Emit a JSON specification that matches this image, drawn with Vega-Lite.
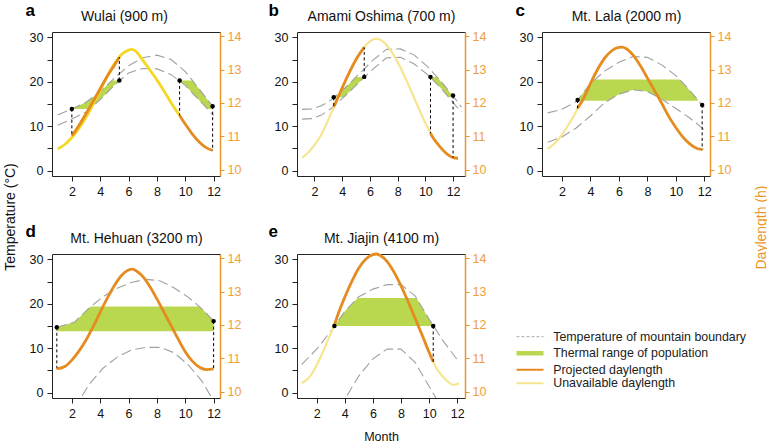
{
"$schema": "https://vega.github.io/schema/vega-lite/v6.json",
"autosize": {"type": "none"},
"padding": {"left": 52, "top": 32, "right": 715, "bottom": 413},
"background": "white",
"config": {"font": "Liberation Sans", "view": {"stroke": "#222", "strokeWidth": 1}, "axis": {"labelFont": "Liberation Sans", "titleFont": "Liberation Sans"}, "legend": {"labelFont": "Liberation Sans"}},
"datasets": {
"temp": [
{"p":"a","g":"up","m":1,"v":12.5},{"p":"a","g":"up","m":2,"v":13.9},{"p":"a","g":"up","m":3,"v":15.4},{"p":"a","g":"up","m":4,"v":17.8},{"p":"a","g":"up","m":5,"v":20.8},{"p":"a","g":"up","m":6,"v":23.6},{"p":"a","g":"up","m":7,"v":25.4},{"p":"a","g":"up","m":8,"v":26.0},{"p":"a","g":"up","m":9,"v":25.0},{"p":"a","g":"up","m":10,"v":22.3},{"p":"a","g":"up","m":11,"v":18.3},{"p":"a","g":"up","m":12,"v":14.2},
{"p":"a","g":"lo","m":1,"v":10.2},{"p":"a","g":"lo","m":2,"v":11.6},{"p":"a","g":"lo","m":3,"v":13.2},{"p":"a","g":"lo","m":4,"v":16.0},{"p":"a","g":"lo","m":5,"v":19.2},{"p":"a","g":"lo","m":6,"v":22.0},{"p":"a","g":"lo","m":7,"v":23.0},{"p":"a","g":"lo","m":8,"v":22.9},{"p":"a","g":"lo","m":9,"v":21.6},{"p":"a","g":"lo","m":10,"v":19.2},{"p":"a","g":"lo","m":11,"v":15.8},{"p":"a","g":"lo","m":12,"v":12.4},
{"p":"b","g":"up","m":1.1,"v":13.8},{"p":"b","g":"up","m":1.8,"v":13.9},{"p":"b","g":"up","m":2.5,"v":14.6},{"p":"b","g":"up","m":3.2,"v":15.9},{"p":"b","g":"up","m":4.2,"v":18.6},{"p":"b","g":"up","m":5.2,"v":21.7},{"p":"b","g":"up","m":6.2,"v":24.8},{"p":"b","g":"up","m":7.2,"v":27.3},{"p":"b","g":"up","m":8.2,"v":27.4},{"p":"b","g":"up","m":9.2,"v":26.0},{"p":"b","g":"up","m":10.2,"v":23.3},{"p":"b","g":"up","m":11.2,"v":19.8},{"p":"b","g":"up","m":12.2,"v":16.0},{"p":"b","g":"up","m":12.6,"v":14.3},
{"p":"b","g":"lo","m":1.1,"v":11.6},{"p":"b","g":"lo","m":1.8,"v":11.7},{"p":"b","g":"lo","m":2.5,"v":12.5},{"p":"b","g":"lo","m":3.2,"v":14.0},{"p":"b","g":"lo","m":4.2,"v":16.8},{"p":"b","g":"lo","m":5.2,"v":19.8},{"p":"b","g":"lo","m":6.2,"v":22.8},{"p":"b","g":"lo","m":7.2,"v":25.4},{"p":"b","g":"lo","m":8.2,"v":25.5},{"p":"b","g":"lo","m":9.2,"v":24.0},{"p":"b","g":"lo","m":10.2,"v":21.5},{"p":"b","g":"lo","m":11.2,"v":18.3},{"p":"b","g":"lo","m":12.2,"v":14.6},{"p":"b","g":"lo","m":12.6,"v":13.2},
{"p":"c","g":"up","m":1,"v":13.0},{"p":"c","g":"up","m":2,"v":13.8},{"p":"c","g":"up","m":3,"v":15.5},{"p":"c","g":"up","m":4,"v":19.6},{"p":"c","g":"up","m":5,"v":22.4},{"p":"c","g":"up","m":6,"v":24.4},{"p":"c","g":"up","m":7,"v":25.7},{"p":"c","g":"up","m":8,"v":25.5},{"p":"c","g":"up","m":9,"v":23.8},{"p":"c","g":"up","m":10,"v":21.4},{"p":"c","g":"up","m":11,"v":18.0},{"p":"c","g":"up","m":12,"v":14.2},
{"p":"c","g":"lo","m":1,"v":6.4},{"p":"c","g":"lo","m":2,"v":7.6},{"p":"c","g":"lo","m":3,"v":9.6},{"p":"c","g":"lo","m":4,"v":12.3},{"p":"c","g":"lo","m":5,"v":15.3},{"p":"c","g":"lo","m":6,"v":17.2},{"p":"c","g":"lo","m":7,"v":18.2},{"p":"c","g":"lo","m":8,"v":17.8},{"p":"c","g":"lo","m":9,"v":16.1},{"p":"c","g":"lo","m":10,"v":14.0},{"p":"c","g":"lo","m":11,"v":11.8},{"p":"c","g":"lo","m":12,"v":9.2},
{"p":"d","g":"up","m":0.94,"v":14.7},{"p":"d","g":"up","m":2.2,"v":15.9},{"p":"d","g":"up","m":3.2,"v":19.0},{"p":"d","g":"up","m":4.2,"v":21.6},{"p":"d","g":"up","m":5.2,"v":23.5},{"p":"d","g":"up","m":6.2,"v":24.8},{"p":"d","g":"up","m":7.2,"v":25.5},{"p":"d","g":"up","m":8.2,"v":25.2},{"p":"d","g":"up","m":9.2,"v":23.6},{"p":"d","g":"up","m":10.2,"v":21.5},{"p":"d","g":"up","m":11.2,"v":18.8},{"p":"d","g":"up","m":12.0,"v":16.1},
{"p":"d","g":"lo","m":2.2,"v":-3.5},{"p":"d","g":"lo","m":3.2,"v":1.8},{"p":"d","g":"lo","m":4.2,"v":5.5},{"p":"d","g":"lo","m":5.2,"v":8.0},{"p":"d","g":"lo","m":6.2,"v":9.6},{"p":"d","g":"lo","m":7.2,"v":10.2},{"p":"d","g":"lo","m":8.2,"v":10.2},{"p":"d","g":"lo","m":9.2,"v":9.0},{"p":"d","g":"lo","m":10.2,"v":6.3},{"p":"d","g":"lo","m":11.2,"v":2.5},{"p":"d","g":"lo","m":12.2,"v":-3.0},
{"p":"e","g":"up","m":0.93,"v":6.3},{"p":"e","g":"up","m":2,"v":9.8},{"p":"e","g":"up","m":3,"v":13.8},{"p":"e","g":"up","m":4,"v":18.3},{"p":"e","g":"up","m":5,"v":21.6},{"p":"e","g":"up","m":6,"v":23.3},{"p":"e","g":"up","m":7,"v":24.3},{"p":"e","g":"up","m":8,"v":24.3},{"p":"e","g":"up","m":9,"v":21.8},{"p":"e","g":"up","m":10,"v":16.5},{"p":"e","g":"up","m":11,"v":11.6},{"p":"e","g":"up","m":12.1,"v":7.0},
{"p":"e","g":"lo","m":3,"v":-6.0},{"p":"e","g":"lo","m":4,"v":-1.5},{"p":"e","g":"lo","m":5,"v":3.8},{"p":"e","g":"lo","m":6,"v":7.6},{"p":"e","g":"lo","m":7,"v":9.8},{"p":"e","g":"lo","m":8,"v":9.8},{"p":"e","g":"lo","m":9,"v":6.8},{"p":"e","g":"lo","m":10,"v":1.4},{"p":"e","g":"lo","m":11,"v":-4.0}
],
"band": [
{"p":"a","g":"1","m":2,"lo":13.9,"hi":13.9},{"p":"a","g":"1","m":2.5,"lo":13.9,"hi":14.65},{"p":"a","g":"1","m":3,"lo":13.9,"hi":15.4},{"p":"a","g":"1","m":3.25,"lo":13.9,"hi":16.0},{"p":"a","g":"1","m":3.5,"lo":14.6,"hi":16.6},{"p":"a","g":"1","m":4,"lo":16.0,"hi":17.8},{"p":"a","g":"1","m":4.5,"lo":17.6,"hi":19.3},{"p":"a","g":"1","m":4.83,"lo":18.66,"hi":20.3},{"p":"a","g":"1","m":5,"lo":19.2,"hi":20.3},{"p":"a","g":"1","m":5.35,"lo":20.2,"hi":20.3},
{"p":"a","g":"2","m":9.6,"lo":20.16,"hi":20.3},{"p":"a","g":"2","m":10,"lo":19.2,"hi":20.3},{"p":"a","g":"2","m":10.5,"lo":17.5,"hi":20.3},{"p":"a","g":"2","m":11,"lo":15.8,"hi":18.3},{"p":"a","g":"2","m":11.5,"lo":14.1,"hi":16.25},{"p":"a","g":"2","m":11.56,"lo":13.9,"hi":16.0},{"p":"a","g":"2","m":11.93,"lo":13.9,"hi":14.49},
{"p":"b","g":"1","m":3.39,"lo":16.5,"hi":16.5},{"p":"b","g":"1","m":3.6,"lo":16.5,"hi":17.0},{"p":"b","g":"1","m":4.09,"lo":16.5,"hi":18.3},{"p":"b","g":"1","m":4.2,"lo":16.8,"hi":18.6},{"p":"b","g":"1","m":4.6,"lo":18.0,"hi":19.84},{"p":"b","g":"1","m":5.0,"lo":19.2,"hi":21.08},{"p":"b","g":"1","m":5.2,"lo":19.8,"hi":21.1},{"p":"b","g":"1","m":5.59,"lo":20.97,"hi":21.1},
{"p":"b","g":"2","m":10.37,"lo":20.96,"hi":21.1},{"p":"b","g":"2","m":10.6,"lo":20.22,"hi":21.1},{"p":"b","g":"2","m":10.83,"lo":19.48,"hi":21.1},{"p":"b","g":"2","m":11.2,"lo":18.3,"hi":19.8},{"p":"b","g":"2","m":11.69,"lo":16.5,"hi":17.94},{"p":"b","g":"2","m":12.0,"lo":16.5,"hi":16.76},
{"p":"c","g":"1","m":3.06,"lo":15.75,"hi":15.75},{"p":"c","g":"1","m":3.5,"lo":15.75,"hi":17.55},{"p":"c","g":"1","m":4.0,"lo":15.75,"hi":19.6},{"p":"c","g":"1","m":4.32,"lo":15.75,"hi":20.5},{"p":"c","g":"1","m":5.24,"lo":15.75,"hi":20.5},{"p":"c","g":"1","m":5.5,"lo":16.25,"hi":20.5},{"p":"c","g":"1","m":6,"lo":17.2,"hi":20.5},{"p":"c","g":"1","m":7,"lo":18.2,"hi":20.5},{"p":"c","g":"1","m":8,"lo":17.8,"hi":20.5},{"p":"c","g":"1","m":9,"lo":16.1,"hi":20.5},{"p":"c","g":"1","m":9.17,"lo":15.75,"hi":20.5},{"p":"c","g":"1","m":10.26,"lo":15.75,"hi":20.5},{"p":"c","g":"1","m":10.5,"lo":15.75,"hi":19.7},{"p":"c","g":"1","m":11,"lo":15.75,"hi":18.0},{"p":"c","g":"1","m":11.59,"lo":15.75,"hi":15.76},
{"p":"d","g":"1","m":0.94,"lo":13.8,"hi":14.7},{"p":"d","g":"1","m":2.2,"lo":13.8,"hi":15.9},{"p":"d","g":"1","m":3.2,"lo":13.8,"hi":19.0},{"p":"d","g":"1","m":3.35,"lo":13.8,"hi":19.4},{"p":"d","g":"1","m":10.98,"lo":13.8,"hi":19.4},{"p":"d","g":"1","m":11.2,"lo":13.8,"hi":18.8},{"p":"d","g":"1","m":12.0,"lo":13.8,"hi":16.1},
{"p":"e","g":"1","m":3.26,"lo":15.0,"hi":15.0},{"p":"e","g":"1","m":3.5,"lo":15.0,"hi":16.08},{"p":"e","g":"1","m":4.0,"lo":15.0,"hi":18.3},{"p":"e","g":"1","m":4.5,"lo":15.0,"hi":19.95},{"p":"e","g":"1","m":4.91,"lo":15.0,"hi":21.3},{"p":"e","g":"1","m":9.1,"lo":15.0,"hi":21.3},{"p":"e","g":"1","m":9.5,"lo":15.0,"hi":19.15},{"p":"e","g":"1","m":10.0,"lo":15.0,"hi":16.5},{"p":"e","g":"1","m":10.29,"lo":15.0,"hi":15.08}
],
"day": [
{"p":"a","s":"U","g":"u1","m":1.0,"v":10.63},{"p":"a","s":"U","g":"u1","m":1.5,"v":10.76},{"p":"a","s":"U","g":"u1","m":2.0,"v":10.97},{"p":"a","s":"U","g":"u1","m":2.5,"v":11.24},{"p":"a","s":"U","g":"u1","m":3.0,"v":11.57},{"p":"a","s":"U","g":"u1","m":3.5,"v":11.96},{"p":"a","s":"U","g":"u1","m":4.0,"v":12.38},{"p":"a","s":"U","g":"u1","m":4.5,"v":12.8},{"p":"a","s":"U","g":"u1","m":5.0,"v":13.17},{"p":"a","s":"U","g":"u1","m":5.5,"v":13.45},{"p":"a","s":"U","g":"u1","m":6.0,"v":13.58},{"p":"a","s":"U","g":"u1","m":6.2,"v":13.6},{"p":"a","s":"U","g":"u1","m":6.5,"v":13.55},{"p":"a","s":"U","g":"u1","m":7.0,"v":13.28},{"p":"a","s":"U","g":"u1","m":7.5,"v":12.99},{"p":"a","s":"U","g":"u1","m":8.0,"v":12.69},{"p":"a","s":"U","g":"u1","m":8.5,"v":12.36},{"p":"a","s":"U","g":"u1","m":9.0,"v":12.01},{"p":"a","s":"U","g":"u1","m":9.6,"v":11.63},
{"p":"a","s":"P","g":"p1","m":2.0,"v":11.02},{"p":"a","s":"P","g":"p1","m":2.5,"v":11.33},{"p":"a","s":"P","g":"p1","m":3.0,"v":11.68},{"p":"a","s":"P","g":"p1","m":3.5,"v":12.05},{"p":"a","s":"P","g":"p1","m":4.0,"v":12.43},{"p":"a","s":"P","g":"p1","m":4.5,"v":12.8},{"p":"a","s":"P","g":"p1","m":5.0,"v":13.13},{"p":"a","s":"P","g":"p1","m":5.35,"v":13.37},
{"p":"a","s":"P","g":"p2","m":9.6,"v":11.63},{"p":"a","s":"P","g":"p2","m":10.0,"v":11.37},{"p":"a","s":"P","g":"p2","m":10.5,"v":11.07},{"p":"a","s":"P","g":"p2","m":11.0,"v":10.83},{"p":"a","s":"P","g":"p2","m":11.5,"v":10.66},{"p":"a","s":"P","g":"p2","m":11.93,"v":10.58},
{"p":"b","s":"U","g":"u1","m":1.11,"v":10.37},{"p":"b","s":"U","g":"u1","m":1.5,"v":10.5},{"p":"b","s":"U","g":"u1","m":2.0,"v":10.74},{"p":"b","s":"U","g":"u1","m":2.5,"v":11.06},{"p":"b","s":"U","g":"u1","m":3.0,"v":11.5},{"p":"b","s":"U","g":"u1","m":3.5,"v":11.98},{"p":"b","s":"U","g":"u1","m":4.0,"v":12.45},{"p":"b","s":"U","g":"u1","m":4.5,"v":12.9},{"p":"b","s":"U","g":"u1","m":5.0,"v":13.3},{"p":"b","s":"U","g":"u1","m":5.5,"v":13.62},{"p":"b","s":"U","g":"u1","m":6.0,"v":13.84},{"p":"b","s":"U","g":"u1","m":6.45,"v":13.92},{"p":"b","s":"U","g":"u1","m":7.0,"v":13.82},{"p":"b","s":"U","g":"u1","m":7.5,"v":13.57},{"p":"b","s":"U","g":"u1","m":8.0,"v":13.22},{"p":"b","s":"U","g":"u1","m":8.5,"v":12.8},{"p":"b","s":"U","g":"u1","m":9.0,"v":12.34},{"p":"b","s":"U","g":"u1","m":9.5,"v":11.86},{"p":"b","s":"U","g":"u1","m":10.0,"v":11.4},{"p":"b","s":"U","g":"u1","m":10.37,"v":11.1},
{"p":"b","s":"P","g":"p1","m":3.39,"v":11.88},{"p":"b","s":"P","g":"p1","m":3.5,"v":11.98},{"p":"b","s":"P","g":"p1","m":4.0,"v":12.45},{"p":"b","s":"P","g":"p1","m":4.5,"v":12.9},{"p":"b","s":"P","g":"p1","m":5.0,"v":13.3},{"p":"b","s":"P","g":"p1","m":5.59,"v":13.66},
{"p":"b","s":"P","g":"p2","m":10.37,"v":11.1},{"p":"b","s":"P","g":"p2","m":10.5,"v":11.0},{"p":"b","s":"P","g":"p2","m":11.0,"v":10.72},{"p":"b","s":"P","g":"p2","m":11.5,"v":10.5},{"p":"b","s":"P","g":"p2","m":12.0,"v":10.37},{"p":"b","s":"P","g":"p2","m":12.36,"v":10.35},
{"p":"c","s":"U","g":"u1","m":1.0,"v":10.63},{"p":"c","s":"U","g":"u1","m":1.5,"v":10.8},{"p":"c","s":"U","g":"u1","m":2.0,"v":11.05},{"p":"c","s":"U","g":"u1","m":2.5,"v":11.38},{"p":"c","s":"U","g":"u1","m":3.0,"v":11.75},{"p":"c","s":"U","g":"u1","m":3.1,"v":11.84},
{"p":"c","s":"P","g":"p1","m":3.1,"v":11.84},{"p":"c","s":"P","g":"p1","m":3.5,"v":12.12},{"p":"c","s":"P","g":"p1","m":4.0,"v":12.58},{"p":"c","s":"P","g":"p1","m":4.5,"v":13.0},{"p":"c","s":"P","g":"p1","m":5.0,"v":13.34},{"p":"c","s":"P","g":"p1","m":5.5,"v":13.56},{"p":"c","s":"P","g":"p1","m":6.0,"v":13.66},{"p":"c","s":"P","g":"p1","m":6.25,"v":13.67},{"p":"c","s":"P","g":"p1","m":6.5,"v":13.63},{"p":"c","s":"P","g":"p1","m":7.0,"v":13.43},{"p":"c","s":"P","g":"p1","m":7.5,"v":13.12},{"p":"c","s":"P","g":"p1","m":8.0,"v":12.75},{"p":"c","s":"P","g":"p1","m":8.5,"v":12.37},{"p":"c","s":"P","g":"p1","m":9.0,"v":12.0},{"p":"c","s":"P","g":"p1","m":9.5,"v":11.6},{"p":"c","s":"P","g":"p1","m":10.0,"v":11.27},{"p":"c","s":"P","g":"p1","m":10.5,"v":10.98},{"p":"c","s":"P","g":"p1","m":11.0,"v":10.77},{"p":"c","s":"P","g":"p1","m":11.5,"v":10.64},{"p":"c","s":"P","g":"p1","m":11.85,"v":10.61},
{"p":"c","s":"U","g":"u2","m":11.85,"v":10.61},{"p":"c","s":"U","g":"u2","m":12.0,"v":10.62},
{"p":"d","s":"P","g":"p1","m":0.94,"v":10.72},{"p":"d","s":"P","g":"p1","m":1.0,"v":10.7},{"p":"d","s":"P","g":"p1","m":1.5,"v":10.76},{"p":"d","s":"P","g":"p1","m":2.0,"v":10.95},{"p":"d","s":"P","g":"p1","m":2.5,"v":11.22},{"p":"d","s":"P","g":"p1","m":3.0,"v":11.55},{"p":"d","s":"P","g":"p1","m":3.5,"v":11.95},{"p":"d","s":"P","g":"p1","m":4.0,"v":12.38},{"p":"d","s":"P","g":"p1","m":4.5,"v":12.8},{"p":"d","s":"P","g":"p1","m":5.0,"v":13.18},{"p":"d","s":"P","g":"p1","m":5.5,"v":13.48},{"p":"d","s":"P","g":"p1","m":6.0,"v":13.64},{"p":"d","s":"P","g":"p1","m":6.25,"v":13.67},{"p":"d","s":"P","g":"p1","m":6.5,"v":13.63},{"p":"d","s":"P","g":"p1","m":7.0,"v":13.45},{"p":"d","s":"P","g":"p1","m":7.5,"v":13.15},{"p":"d","s":"P","g":"p1","m":8.0,"v":12.78},{"p":"d","s":"P","g":"p1","m":8.5,"v":12.38},{"p":"d","s":"P","g":"p1","m":9.0,"v":11.98},{"p":"d","s":"P","g":"p1","m":9.5,"v":11.58},{"p":"d","s":"P","g":"p1","m":10.0,"v":11.2},{"p":"d","s":"P","g":"p1","m":10.5,"v":10.92},{"p":"d","s":"P","g":"p1","m":11.0,"v":10.74},{"p":"d","s":"P","g":"p1","m":11.5,"v":10.67},{"p":"d","s":"P","g":"p1","m":12.0,"v":10.69},
{"p":"e","s":"U","g":"u1","m":0.93,"v":10.26},{"p":"e","s":"U","g":"u1","m":1.5,"v":10.45},{"p":"e","s":"U","g":"u1","m":2.0,"v":10.8},{"p":"e","s":"U","g":"u1","m":2.5,"v":11.25},{"p":"e","s":"U","g":"u1","m":3.0,"v":11.75},{"p":"e","s":"U","g":"u1","m":3.26,"v":12.0},
{"p":"e","s":"P","g":"p1","m":3.26,"v":12.0},{"p":"e","s":"P","g":"p1","m":3.5,"v":12.3},{"p":"e","s":"P","g":"p1","m":4.0,"v":12.83},{"p":"e","s":"P","g":"p1","m":4.5,"v":13.3},{"p":"e","s":"P","g":"p1","m":5.0,"v":13.7},{"p":"e","s":"P","g":"p1","m":5.5,"v":13.97},{"p":"e","s":"P","g":"p1","m":6.0,"v":14.1},{"p":"e","s":"P","g":"p1","m":6.25,"v":14.12},{"p":"e","s":"P","g":"p1","m":6.5,"v":14.08},{"p":"e","s":"P","g":"p1","m":7.0,"v":13.9},{"p":"e","s":"P","g":"p1","m":7.5,"v":13.58},{"p":"e","s":"P","g":"p1","m":8.0,"v":13.17},{"p":"e","s":"P","g":"p1","m":8.5,"v":12.7},{"p":"e","s":"P","g":"p1","m":9.0,"v":12.2},{"p":"e","s":"P","g":"p1","m":9.5,"v":11.7},{"p":"e","s":"P","g":"p1","m":10.0,"v":11.18},{"p":"e","s":"P","g":"p1","m":10.29,"v":10.9},
{"p":"e","s":"U","g":"u2","m":10.29,"v":10.9},{"p":"e","s":"U","g":"u2","m":10.5,"v":10.72},{"p":"e","s":"U","g":"u2","m":11.0,"v":10.45},{"p":"e","s":"U","g":"u2","m":11.3,"v":10.32},{"p":"e","s":"U","g":"u2","m":11.5,"v":10.25},{"p":"e","s":"U","g":"u2","m":11.76,"v":10.21},{"p":"e","s":"U","g":"u2","m":12.12,"v":10.26}
],
"pts": [
{"p":"a","m":2,"t":13.9,"e":7.84},{"p":"a","m":5.35,"t":20.3,"e":25.55},{"p":"a","m":9.6,"t":20.3,"e":12.44},{"p":"a","m":11.93,"t":14.5,"e":4.53},
{"p":"b","m":3.39,"t":16.5,"e":14.32},{"p":"b","m":5.59,"t":21.1,"e":27.73},{"p":"b","m":10.37,"t":21.1,"e":8.44},{"p":"b","m":12.0,"t":16.9,"e":2.94},
{"p":"c","m":3.1,"t":15.9,"e":14.02},{"p":"c","m":11.85,"t":14.8,"e":4.75},
{"p":"d","m":0.94,"t":14.7,"e":5.58},{"p":"d","m":12.0,"t":16.1,"e":5.36},
{"p":"e","m":3.26,"t":15.0,"e":null},{"p":"e","m":10.29,"t":15.0,"e":6.94}
]
},
"bounds": "flush",
"columns": 3,
"spacing": {"row": 78, "column": 77},
"concat": [
{
"width": 168, "height": 144,
"layer": [
{"encoding": {"x": {"field": "m", "type": "quantitative", "scale": {"domain": [0.6, 12.45], "nice": false, "zero": false}, "axis": {"orient": "bottom", "values": [2,4,6,8,10,12], "domain": false, "grid": false, "tickSize": 5, "tickColor": "#222", "labelPadding": 4, "labelFontSize": 12.5, "labelColor": "#111", "title": null}}},
 "layer": [
 {"data": {"name": "band"}, "transform": [{"filter": "datum.p === 'a'"}], "mark": {"type": "area", "color": "#B9D84F", "opacity": 1}, "encoding": {"y": {"field": "lo", "type": "quantitative", "scale": {"domain": [-1.2, 31.2], "nice": false, "zero": false}, "axis": {"orient": "left", "values": [0,5,10,15,20,25,30], "labelExpr": "datum.value % 10 === 0 ? datum.label : ''", "domain": false, "grid": false, "tickSize": 5, "tickColor": "#222", "labelPadding": 4, "labelFontSize": 12.5, "labelColor": "#111", "title": "Temperature (°C)", "titleX": -38, "titleY": 184.5, "titleAngle": 270, "titleAlign": "center", "titleBaseline": "alphabetic", "titleFontSize": 14, "titleFontWeight": "normal", "titleColor": "#111"}}, "y2": {"field": "hi"}, "detail": {"field": "g", "type": "nominal"}}},
 {"data": {"name": "temp"}, "transform": [{"filter": "datum.p === 'a'"}], "mark": {"type": "line", "color": "#A0A0A0", "strokeWidth": 1.1, "strokeDash": [10, 4.5], "clip": true}, "encoding": {"y": {"field": "v", "type": "quantitative", "scale": {"domain": [-1.2, 31.2], "nice": false, "zero": false}, "axis": {"orient": "left", "values": [0,5,10,15,20,25,30], "labelExpr": "datum.value % 10 === 0 ? datum.label : ''", "domain": false, "grid": false, "tickSize": 5, "tickColor": "#222", "labelPadding": 4, "labelFontSize": 12.5, "labelColor": "#111", "title": "Temperature (°C)", "titleX": -38, "titleY": 184.5, "titleAngle": 270, "titleAlign": "center", "titleBaseline": "alphabetic", "titleFontSize": 14, "titleFontWeight": "normal", "titleColor": "#111"}}, "detail": {"field": "g", "type": "nominal"}}}
 ]},
{"encoding": {"x": {"field": "m", "type": "quantitative", "scale": {"domain": [0.6, 12.45], "nice": false, "zero": false}, "axis": {"orient": "top", "labels": false, "ticks": false, "domain": false, "grid": false, "title": "Wulai (900 m)", "titleX": 72, "titleY": -12, "titleAngle": 0, "titleAlign": "center", "titleBaseline": "alphabetic", "titleFontSize": 14, "titleFontWeight": "normal", "titleColor": "#111"}}},
 "layer": [
 {"data": {"name": "day"}, "transform": [{"filter": "datum.p === 'a' && datum.s === 'U'"}], "mark": {"type": "line", "color": "#F5D726", "strokeWidth": 2.8, "interpolate": "monotone"}, "encoding": {"y": {"field": "v", "type": "quantitative", "scale": {"domain": [9.82, 14.12], "nice": false, "zero": false}, "axis": {"orient": "right", "values": [10,11,12,13,14], "domain": true, "domainColor": "#E8962A", "domainWidth": 1.5, "grid": false, "tickColor": "#E8962A", "tickSize": 4, "labelPadding": 3, "labelFontSize": 12.5, "labelColor": "#EF9E3A", "title": "a", "titleX": -195, "titleY": -17, "titleAngle": 0, "titleAlign": "left", "titleBaseline": "alphabetic", "titleFontSize": 17, "titleFontWeight": "bold", "titleColor": "#000"}}, "detail": {"field": "g", "type": "nominal"}}},
 {"data": {"name": "day"}, "transform": [{"filter": "datum.p === 'a' && datum.s === 'P'"}], "mark": {"type": "line", "strokeWidth": 2.8, "interpolate": "monotone"}, "encoding": {"y": {"field": "v", "type": "quantitative", "scale": {"domain": [9.82, 14.12], "nice": false, "zero": false}, "axis": {"orient": "right", "values": [10,11,12,13,14], "domain": true, "domainColor": "#E8962A", "domainWidth": 1.5, "grid": false, "tickColor": "#E8962A", "tickSize": 4, "labelPadding": 3, "labelFontSize": 12.5, "labelColor": "#EF9E3A", "title": "a", "titleX": -195, "titleY": -17, "titleAngle": 0, "titleAlign": "left", "titleBaseline": "alphabetic", "titleFontSize": 17, "titleFontWeight": "bold", "titleColor": "#000"}}, "detail": {"field": "g", "type": "nominal"}, "color": {"field": "s", "type": "nominal", "scale": {"domain": ["T","R","P","U"], "range": ["#A8A8A8","#B9D84F","#E58B1F","#F6E58F"]}, "legend": {"orient": "none", "legendX": 471.8, "legendY": 298.5, "direction": "vertical", "title": null, "symbolType": "M-3.86,0H3.86", "symbolSize": 49, "labelFontSize": 12.4, "labelColor": "#222", "labelOffset": 17, "rowPadding": 0.5, "padding": 0, "labelLimit": 400, "labelExpr": "datum.value === 'T' ? 'Temperature of mountain boundary' : datum.value === 'R' ? 'Thermal range of population' : datum.value === 'P' ? 'Projected daylength' : 'Unavailable daylength'", "encode": {"symbols": {"update": {"strokeDash": {"signal": "datum.value === 'T' ? [3, 2] : [1, 0]"}, "strokeWidth": {"signal": "datum.value === 'R' ? 4.5 : (datum.value === 'T' ? 1 : 2)"}}}}}}}}
 ]},
{"encoding": {"x": {"field": "m", "type": "quantitative", "scale": {"domain": [0.6, 12.45], "nice": false, "zero": false}, "axis": null}},
 "layer": [
 {"data": {"name": "pts"}, "transform": [{"filter": "datum.p === 'a' && isValid(datum.e)"}], "mark": {"type": "rule", "color": "#000", "strokeWidth": 1, "strokeDash": [3, 2.5]}, "encoding": {"y": {"field": "t", "type": "quantitative", "scale": {"domain": [-1.2, 31.2], "nice": false, "zero": false}, "axis": null}, "y2": {"field": "e"}}},
 {"data": {"name": "pts"}, "transform": [{"filter": "datum.p === 'a'"}], "mark": {"type": "point", "filled": true, "color": "#000", "size": 20, "opacity": 1}, "encoding": {"y": {"field": "t", "type": "quantitative", "scale": {"domain": [-1.2, 31.2], "nice": false, "zero": false}, "axis": null}}}
 ]}
],
"resolve": {"scale": {"y": "independent"}, "axis": {"x": "independent", "y": "independent"}}
},
{
"width": 168, "height": 144,
"layer": [
{"encoding": {"x": {"field": "m", "type": "quantitative", "scale": {"domain": [0.74, 12.86], "nice": false, "zero": false}, "axis": {"orient": "bottom", "values": [2,4,6,8,10,12], "domain": false, "grid": false, "tickSize": 5, "tickColor": "#222", "labelPadding": 4, "labelFontSize": 12.5, "labelColor": "#111", "title": null}}},
 "layer": [
 {"data": {"name": "band"}, "transform": [{"filter": "datum.p === 'b'"}], "mark": {"type": "area", "color": "#B9D84F", "opacity": 1}, "encoding": {"y": {"field": "lo", "type": "quantitative", "scale": {"domain": [-1.2, 31.2], "nice": false, "zero": false}, "axis": {"orient": "left", "values": [0,5,10,15,20,25,30], "labelExpr": "datum.value % 10 === 0 ? datum.label : ''", "domain": false, "grid": false, "tickSize": 5, "tickColor": "#222", "labelPadding": 4, "labelFontSize": 12.5, "labelColor": "#111", "title": "b", "titleX": -29, "titleY": -17, "titleAngle": 0, "titleAlign": "left", "titleBaseline": "alphabetic", "titleFontSize": 17, "titleFontWeight": "bold", "titleColor": "#000"}}, "y2": {"field": "hi"}, "detail": {"field": "g", "type": "nominal"}}},
 {"data": {"name": "temp"}, "transform": [{"filter": "datum.p === 'b'"}], "mark": {"type": "line", "color": "#A0A0A0", "strokeWidth": 1.1, "strokeDash": [10, 4.5], "clip": true}, "encoding": {"y": {"field": "v", "type": "quantitative", "scale": {"domain": [-1.2, 31.2], "nice": false, "zero": false}, "axis": {"orient": "left", "values": [0,5,10,15,20,25,30], "labelExpr": "datum.value % 10 === 0 ? datum.label : ''", "domain": false, "grid": false, "tickSize": 5, "tickColor": "#222", "labelPadding": 4, "labelFontSize": 12.5, "labelColor": "#111", "title": "b", "titleX": -29, "titleY": -17, "titleAngle": 0, "titleAlign": "left", "titleBaseline": "alphabetic", "titleFontSize": 17, "titleFontWeight": "bold", "titleColor": "#000"}}, "detail": {"field": "g", "type": "nominal"}}}
 ]},
{"encoding": {"x": {"field": "m", "type": "quantitative", "scale": {"domain": [0.74, 12.86], "nice": false, "zero": false}, "axis": {"orient": "top", "labels": false, "ticks": false, "domain": false, "grid": false, "title": "Amami Oshima (700 m)", "titleX": 84, "titleY": -12, "titleAngle": 0, "titleAlign": "center", "titleBaseline": "alphabetic", "titleFontSize": 14, "titleFontWeight": "normal", "titleColor": "#111"}}},
 "layer": [
 {"data": {"name": "day"}, "transform": [{"filter": "datum.p === 'b' && datum.s === 'U'"}], "mark": {"type": "line", "color": "#F6E58F", "strokeWidth": 2.2, "interpolate": "monotone"}, "encoding": {"y": {"field": "v", "type": "quantitative", "scale": {"domain": [9.82, 14.12], "nice": false, "zero": false}, "axis": {"orient": "right", "values": [10,11,12,13,14], "domain": true, "domainColor": "#E8962A", "domainWidth": 1.5, "grid": false, "tickColor": "#E8962A", "tickSize": 4, "labelPadding": 3, "labelFontSize": 12.5, "labelColor": "#EF9E3A", "title": null}}, "detail": {"field": "g", "type": "nominal"}}},
 {"data": {"name": "day"}, "transform": [{"filter": "datum.p === 'b' && datum.s === 'P'"}], "mark": {"type": "line", "strokeWidth": 2.8, "interpolate": "monotone"}, "encoding": {"y": {"field": "v", "type": "quantitative", "scale": {"domain": [9.82, 14.12], "nice": false, "zero": false}, "axis": {"orient": "right", "values": [10,11,12,13,14], "domain": true, "domainColor": "#E8962A", "domainWidth": 1.5, "grid": false, "tickColor": "#E8962A", "tickSize": 4, "labelPadding": 3, "labelFontSize": 12.5, "labelColor": "#EF9E3A", "title": null}}, "detail": {"field": "g", "type": "nominal"}, "color": {"field": "s", "type": "nominal", "scale": {"domain": ["T","R","P","U"], "range": ["#A8A8A8","#B9D84F","#E58B1F","#F6E58F"]}, "legend": {"orient": "none", "legendX": 471.8, "legendY": 298.5, "direction": "vertical", "title": null, "symbolType": "M-3.86,0H3.86", "symbolSize": 49, "labelFontSize": 12.4, "labelColor": "#222", "labelOffset": 17, "rowPadding": 0.5, "padding": 0, "labelLimit": 400, "labelExpr": "datum.value === 'T' ? 'Temperature of mountain boundary' : datum.value === 'R' ? 'Thermal range of population' : datum.value === 'P' ? 'Projected daylength' : 'Unavailable daylength'", "encode": {"symbols": {"update": {"strokeDash": {"signal": "datum.value === 'T' ? [3, 2] : [1, 0]"}, "strokeWidth": {"signal": "datum.value === 'R' ? 4.5 : (datum.value === 'T' ? 1 : 2)"}}}}}}}}
 ]},
{"encoding": {"x": {"field": "m", "type": "quantitative", "scale": {"domain": [0.74, 12.86], "nice": false, "zero": false}, "axis": null}},
 "layer": [
 {"data": {"name": "pts"}, "transform": [{"filter": "datum.p === 'b' && isValid(datum.e)"}], "mark": {"type": "rule", "color": "#000", "strokeWidth": 1, "strokeDash": [3, 2.5]}, "encoding": {"y": {"field": "t", "type": "quantitative", "scale": {"domain": [-1.2, 31.2], "nice": false, "zero": false}, "axis": null}, "y2": {"field": "e"}}},
 {"data": {"name": "pts"}, "transform": [{"filter": "datum.p === 'b'"}], "mark": {"type": "point", "filled": true, "color": "#000", "size": 20, "opacity": 1}, "encoding": {"y": {"field": "t", "type": "quantitative", "scale": {"domain": [-1.2, 31.2], "nice": false, "zero": false}, "axis": null}}}
 ]}
],
"resolve": {"scale": {"y": "independent"}, "axis": {"x": "independent", "y": "independent"}}
},
{
"width": 168, "height": 144,
"layer": [
{"encoding": {"x": {"field": "m", "type": "quantitative", "scale": {"domain": [0.6, 12.4], "nice": false, "zero": false}, "axis": {"orient": "bottom", "values": [2,4,6,8,10,12], "domain": false, "grid": false, "tickSize": 5, "tickColor": "#222", "labelPadding": 4, "labelFontSize": 12.5, "labelColor": "#111", "title": null}}},
 "layer": [
 {"data": {"name": "band"}, "transform": [{"filter": "datum.p === 'c'"}], "mark": {"type": "area", "color": "#B9D84F", "opacity": 1}, "encoding": {"y": {"field": "lo", "type": "quantitative", "scale": {"domain": [-1.2, 31.2], "nice": false, "zero": false}, "axis": {"orient": "left", "values": [0,5,10,15,20,25,30], "labelExpr": "datum.value % 10 === 0 ? datum.label : ''", "domain": false, "grid": false, "tickSize": 5, "tickColor": "#222", "labelPadding": 4, "labelFontSize": 12.5, "labelColor": "#111", "title": "c", "titleX": -27, "titleY": -17, "titleAngle": 0, "titleAlign": "left", "titleBaseline": "alphabetic", "titleFontSize": 17, "titleFontWeight": "bold", "titleColor": "#000"}}, "y2": {"field": "hi"}, "detail": {"field": "g", "type": "nominal"}}},
 {"data": {"name": "temp"}, "transform": [{"filter": "datum.p === 'c'"}], "mark": {"type": "line", "color": "#A0A0A0", "strokeWidth": 1.1, "strokeDash": [10, 4.5], "clip": true}, "encoding": {"y": {"field": "v", "type": "quantitative", "scale": {"domain": [-1.2, 31.2], "nice": false, "zero": false}, "axis": {"orient": "left", "values": [0,5,10,15,20,25,30], "labelExpr": "datum.value % 10 === 0 ? datum.label : ''", "domain": false, "grid": false, "tickSize": 5, "tickColor": "#222", "labelPadding": 4, "labelFontSize": 12.5, "labelColor": "#111", "title": "c", "titleX": -27, "titleY": -17, "titleAngle": 0, "titleAlign": "left", "titleBaseline": "alphabetic", "titleFontSize": 17, "titleFontWeight": "bold", "titleColor": "#000"}}, "detail": {"field": "g", "type": "nominal"}}}
 ]},
{"encoding": {"x": {"field": "m", "type": "quantitative", "scale": {"domain": [0.6, 12.4], "nice": false, "zero": false}, "axis": {"orient": "top", "labels": false, "ticks": false, "domain": false, "grid": false, "title": "Mt. Lala (2000 m)", "titleX": 84, "titleY": -12, "titleAngle": 0, "titleAlign": "center", "titleBaseline": "alphabetic", "titleFontSize": 14, "titleFontWeight": "normal", "titleColor": "#111"}}},
 "layer": [
 {"data": {"name": "day"}, "transform": [{"filter": "datum.p === 'c' && datum.s === 'U'"}], "mark": {"type": "line", "color": "#F6E58F", "strokeWidth": 2.2, "interpolate": "monotone"}, "encoding": {"y": {"field": "v", "type": "quantitative", "scale": {"domain": [9.82, 14.12], "nice": false, "zero": false}, "axis": {"orient": "right", "values": [10,11,12,13,14], "domain": true, "domainColor": "#E8962A", "domainWidth": 1.5, "grid": false, "tickColor": "#E8962A", "tickSize": 4, "labelPadding": 3, "labelFontSize": 12.5, "labelColor": "#EF9E3A", "title": "Daylength (h)", "titleX": 55, "titleY": 195, "titleAngle": 270, "titleAlign": "center", "titleBaseline": "alphabetic", "titleFontSize": 14, "titleFontWeight": "normal", "titleColor": "#E8962A"}}, "detail": {"field": "g", "type": "nominal"}}},
 {"data": {"name": "day"}, "transform": [{"filter": "datum.p === 'c' && datum.s === 'P'"}], "mark": {"type": "line", "strokeWidth": 2.8, "interpolate": "monotone"}, "encoding": {"y": {"field": "v", "type": "quantitative", "scale": {"domain": [9.82, 14.12], "nice": false, "zero": false}, "axis": {"orient": "right", "values": [10,11,12,13,14], "domain": true, "domainColor": "#E8962A", "domainWidth": 1.5, "grid": false, "tickColor": "#E8962A", "tickSize": 4, "labelPadding": 3, "labelFontSize": 12.5, "labelColor": "#EF9E3A", "title": "Daylength (h)", "titleX": 55, "titleY": 195, "titleAngle": 270, "titleAlign": "center", "titleBaseline": "alphabetic", "titleFontSize": 14, "titleFontWeight": "normal", "titleColor": "#E8962A"}}, "detail": {"field": "g", "type": "nominal"}, "color": {"field": "s", "type": "nominal", "scale": {"domain": ["T","R","P","U"], "range": ["#A8A8A8","#B9D84F","#E58B1F","#F6E58F"]}, "legend": {"orient": "none", "legendX": 471.8, "legendY": 298.5, "direction": "vertical", "title": null, "symbolType": "M-3.86,0H3.86", "symbolSize": 49, "labelFontSize": 12.4, "labelColor": "#222", "labelOffset": 17, "rowPadding": 0.5, "padding": 0, "labelLimit": 400, "labelExpr": "datum.value === 'T' ? 'Temperature of mountain boundary' : datum.value === 'R' ? 'Thermal range of population' : datum.value === 'P' ? 'Projected daylength' : 'Unavailable daylength'", "encode": {"symbols": {"update": {"strokeDash": {"signal": "datum.value === 'T' ? [3, 2] : [1, 0]"}, "strokeWidth": {"signal": "datum.value === 'R' ? 4.5 : (datum.value === 'T' ? 1 : 2)"}}}}}}}}
 ]},
{"encoding": {"x": {"field": "m", "type": "quantitative", "scale": {"domain": [0.6, 12.4], "nice": false, "zero": false}, "axis": null}},
 "layer": [
 {"data": {"name": "pts"}, "transform": [{"filter": "datum.p === 'c' && isValid(datum.e)"}], "mark": {"type": "rule", "color": "#000", "strokeWidth": 1, "strokeDash": [3, 2.5]}, "encoding": {"y": {"field": "t", "type": "quantitative", "scale": {"domain": [-1.2, 31.2], "nice": false, "zero": false}, "axis": null}, "y2": {"field": "e"}}},
 {"data": {"name": "pts"}, "transform": [{"filter": "datum.p === 'c'"}], "mark": {"type": "point", "filled": true, "color": "#000", "size": 20, "opacity": 1}, "encoding": {"y": {"field": "t", "type": "quantitative", "scale": {"domain": [-1.2, 31.2], "nice": false, "zero": false}, "axis": null}}}
 ]}
],
"resolve": {"scale": {"y": "independent"}, "axis": {"x": "independent", "y": "independent"}}
},
{
"width": 168, "height": 144,
"layer": [
{"encoding": {"x": {"field": "m", "type": "quantitative", "scale": {"domain": [0.6, 12.45], "nice": false, "zero": false}, "axis": {"orient": "bottom", "values": [2,4,6,8,10,12], "domain": false, "grid": false, "tickSize": 5, "tickColor": "#222", "labelPadding": 4, "labelFontSize": 12.5, "labelColor": "#111", "title": null}}},
 "layer": [
 {"data": {"name": "band"}, "transform": [{"filter": "datum.p === 'd'"}], "mark": {"type": "area", "color": "#B9D84F", "opacity": 1}, "encoding": {"y": {"field": "lo", "type": "quantitative", "scale": {"domain": [-1.2, 31.2], "nice": false, "zero": false}, "axis": {"orient": "left", "values": [0,5,10,15,20,25,30], "labelExpr": "datum.value % 10 === 0 ? datum.label : ''", "domain": false, "grid": false, "tickSize": 5, "tickColor": "#222", "labelPadding": 4, "labelFontSize": 12.5, "labelColor": "#111", "title": "d", "titleX": -27, "titleY": -18, "titleAngle": 0, "titleAlign": "left", "titleBaseline": "alphabetic", "titleFontSize": 17, "titleFontWeight": "bold", "titleColor": "#000"}}, "y2": {"field": "hi"}, "detail": {"field": "g", "type": "nominal"}}},
 {"data": {"name": "temp"}, "transform": [{"filter": "datum.p === 'd'"}], "mark": {"type": "line", "color": "#A0A0A0", "strokeWidth": 1.1, "strokeDash": [10, 4.5], "clip": true}, "encoding": {"y": {"field": "v", "type": "quantitative", "scale": {"domain": [-1.2, 31.2], "nice": false, "zero": false}, "axis": {"orient": "left", "values": [0,5,10,15,20,25,30], "labelExpr": "datum.value % 10 === 0 ? datum.label : ''", "domain": false, "grid": false, "tickSize": 5, "tickColor": "#222", "labelPadding": 4, "labelFontSize": 12.5, "labelColor": "#111", "title": "d", "titleX": -27, "titleY": -18, "titleAngle": 0, "titleAlign": "left", "titleBaseline": "alphabetic", "titleFontSize": 17, "titleFontWeight": "bold", "titleColor": "#000"}}, "detail": {"field": "g", "type": "nominal"}}}
 ]},
{"encoding": {"x": {"field": "m", "type": "quantitative", "scale": {"domain": [0.6, 12.45], "nice": false, "zero": false}, "axis": {"orient": "top", "labels": false, "ticks": false, "domain": false, "grid": false, "title": "Mt. Hehuan (3200 m)", "titleX": 84, "titleY": -12, "titleAngle": 0, "titleAlign": "center", "titleBaseline": "alphabetic", "titleFontSize": 14, "titleFontWeight": "normal", "titleColor": "#111"}}},
 "layer": [
 {"data": {"name": "day"}, "transform": [{"filter": "datum.p === 'd' && datum.s === 'P'"}], "mark": {"type": "line", "strokeWidth": 2.8, "interpolate": "monotone"}, "encoding": {"y": {"field": "v", "type": "quantitative", "scale": {"domain": [9.82, 14.12], "nice": false, "zero": false}, "axis": {"orient": "right", "values": [10,11,12,13,14], "domain": true, "domainColor": "#E8962A", "domainWidth": 1.5, "grid": false, "tickColor": "#E8962A", "tickSize": 4, "labelPadding": 3, "labelFontSize": 12.5, "labelColor": "#EF9E3A", "title": null}}, "detail": {"field": "g", "type": "nominal"}, "color": {"field": "s", "type": "nominal", "scale": {"domain": ["T","R","P","U"], "range": ["#A8A8A8","#B9D84F","#E58B1F","#F6E58F"]}, "legend": {"orient": "none", "legendX": 471.8, "legendY": 298.5, "direction": "vertical", "title": null, "symbolType": "M-3.86,0H3.86", "symbolSize": 49, "labelFontSize": 12.4, "labelColor": "#222", "labelOffset": 17, "rowPadding": 0.5, "padding": 0, "labelLimit": 400, "labelExpr": "datum.value === 'T' ? 'Temperature of mountain boundary' : datum.value === 'R' ? 'Thermal range of population' : datum.value === 'P' ? 'Projected daylength' : 'Unavailable daylength'", "encode": {"symbols": {"update": {"strokeDash": {"signal": "datum.value === 'T' ? [3, 2] : [1, 0]"}, "strokeWidth": {"signal": "datum.value === 'R' ? 4.5 : (datum.value === 'T' ? 1 : 2)"}}}}}}}}
 ]},
{"encoding": {"x": {"field": "m", "type": "quantitative", "scale": {"domain": [0.6, 12.45], "nice": false, "zero": false}, "axis": null}},
 "layer": [
 {"data": {"name": "pts"}, "transform": [{"filter": "datum.p === 'd' && isValid(datum.e)"}], "mark": {"type": "rule", "color": "#000", "strokeWidth": 1, "strokeDash": [3, 2.5]}, "encoding": {"y": {"field": "t", "type": "quantitative", "scale": {"domain": [-1.2, 31.2], "nice": false, "zero": false}, "axis": null}, "y2": {"field": "e"}}},
 {"data": {"name": "pts"}, "transform": [{"filter": "datum.p === 'd'"}], "mark": {"type": "point", "filled": true, "color": "#000", "size": 20, "opacity": 1}, "encoding": {"y": {"field": "t", "type": "quantitative", "scale": {"domain": [-1.2, 31.2], "nice": false, "zero": false}, "axis": null}}}
 ]}
],
"resolve": {"scale": {"y": "independent"}, "axis": {"x": "independent", "y": "independent"}}
},
{
"width": 168, "height": 144,
"layer": [
{"encoding": {"x": {"field": "m", "type": "quantitative", "scale": {"domain": [0.6, 12.55], "nice": false, "zero": false}, "axis": {"orient": "bottom", "values": [2,4,6,8,10,12], "domain": false, "grid": false, "tickSize": 5, "tickColor": "#222", "labelPadding": 4, "labelFontSize": 12.5, "labelColor": "#111", "title": "Month", "titleX": 84, "titleY": 38, "titleAngle": 0, "titleAlign": "center", "titleBaseline": "middle", "titleFontSize": 12.5, "titleFontWeight": "normal", "titleColor": "#111"}}},
 "layer": [
 {"data": {"name": "band"}, "transform": [{"filter": "datum.p === 'e'"}], "mark": {"type": "area", "color": "#B9D84F", "opacity": 1}, "encoding": {"y": {"field": "lo", "type": "quantitative", "scale": {"domain": [-1.2, 31.2], "nice": false, "zero": false}, "axis": {"orient": "left", "values": [0,5,10,15,20,25,30], "labelExpr": "datum.value % 10 === 0 ? datum.label : ''", "domain": false, "grid": false, "tickSize": 5, "tickColor": "#222", "labelPadding": 4, "labelFontSize": 12.5, "labelColor": "#111", "title": "e", "titleX": -29, "titleY": -18, "titleAngle": 0, "titleAlign": "left", "titleBaseline": "alphabetic", "titleFontSize": 17, "titleFontWeight": "bold", "titleColor": "#000"}}, "y2": {"field": "hi"}, "detail": {"field": "g", "type": "nominal"}}},
 {"data": {"name": "temp"}, "transform": [{"filter": "datum.p === 'e'"}], "mark": {"type": "line", "color": "#A0A0A0", "strokeWidth": 1.1, "strokeDash": [10, 4.5], "clip": true}, "encoding": {"y": {"field": "v", "type": "quantitative", "scale": {"domain": [-1.2, 31.2], "nice": false, "zero": false}, "axis": {"orient": "left", "values": [0,5,10,15,20,25,30], "labelExpr": "datum.value % 10 === 0 ? datum.label : ''", "domain": false, "grid": false, "tickSize": 5, "tickColor": "#222", "labelPadding": 4, "labelFontSize": 12.5, "labelColor": "#111", "title": "e", "titleX": -29, "titleY": -18, "titleAngle": 0, "titleAlign": "left", "titleBaseline": "alphabetic", "titleFontSize": 17, "titleFontWeight": "bold", "titleColor": "#000"}}, "detail": {"field": "g", "type": "nominal"}}}
 ]},
{"encoding": {"x": {"field": "m", "type": "quantitative", "scale": {"domain": [0.6, 12.55], "nice": false, "zero": false}, "axis": {"orient": "top", "labels": false, "ticks": false, "domain": false, "grid": false, "title": "Mt. Jiajin (4100 m)", "titleX": 84, "titleY": -12, "titleAngle": 0, "titleAlign": "center", "titleBaseline": "alphabetic", "titleFontSize": 14, "titleFontWeight": "normal", "titleColor": "#111"}}},
 "layer": [
 {"data": {"name": "day"}, "transform": [{"filter": "datum.p === 'e' && datum.s === 'U'"}], "mark": {"type": "line", "color": "#F6E58F", "strokeWidth": 2.2, "interpolate": "monotone"}, "encoding": {"y": {"field": "v", "type": "quantitative", "scale": {"domain": [9.82, 14.12], "nice": false, "zero": false}, "axis": {"orient": "right", "values": [10,11,12,13,14], "domain": true, "domainColor": "#E8962A", "domainWidth": 1.5, "grid": false, "tickColor": "#E8962A", "tickSize": 4, "labelPadding": 3, "labelFontSize": 12.5, "labelColor": "#EF9E3A", "title": null}}, "detail": {"field": "g", "type": "nominal"}}},
 {"data": {"name": "day"}, "transform": [{"filter": "datum.p === 'e' && datum.s === 'P'"}], "mark": {"type": "line", "strokeWidth": 2.8, "interpolate": "monotone"}, "encoding": {"y": {"field": "v", "type": "quantitative", "scale": {"domain": [9.82, 14.12], "nice": false, "zero": false}, "axis": {"orient": "right", "values": [10,11,12,13,14], "domain": true, "domainColor": "#E8962A", "domainWidth": 1.5, "grid": false, "tickColor": "#E8962A", "tickSize": 4, "labelPadding": 3, "labelFontSize": 12.5, "labelColor": "#EF9E3A", "title": null}}, "detail": {"field": "g", "type": "nominal"}, "color": {"field": "s", "type": "nominal", "scale": {"domain": ["T","R","P","U"], "range": ["#A8A8A8","#B9D84F","#E58B1F","#F6E58F"]}, "legend": {"orient": "none", "legendX": 471.8, "legendY": 298.5, "direction": "vertical", "title": null, "symbolType": "M-3.86,0H3.86", "symbolSize": 49, "labelFontSize": 12.4, "labelColor": "#222", "labelOffset": 17, "rowPadding": 0.5, "padding": 0, "labelLimit": 400, "labelExpr": "datum.value === 'T' ? 'Temperature of mountain boundary' : datum.value === 'R' ? 'Thermal range of population' : datum.value === 'P' ? 'Projected daylength' : 'Unavailable daylength'", "encode": {"symbols": {"update": {"strokeDash": {"signal": "datum.value === 'T' ? [3, 2] : [1, 0]"}, "strokeWidth": {"signal": "datum.value === 'R' ? 4.5 : (datum.value === 'T' ? 1 : 2)"}}}}}}}}
 ]},
{"encoding": {"x": {"field": "m", "type": "quantitative", "scale": {"domain": [0.6, 12.55], "nice": false, "zero": false}, "axis": null}},
 "layer": [
 {"data": {"name": "pts"}, "transform": [{"filter": "datum.p === 'e' && isValid(datum.e)"}], "mark": {"type": "rule", "color": "#000", "strokeWidth": 1, "strokeDash": [3, 2.5]}, "encoding": {"y": {"field": "t", "type": "quantitative", "scale": {"domain": [-1.2, 31.2], "nice": false, "zero": false}, "axis": null}, "y2": {"field": "e"}}},
 {"data": {"name": "pts"}, "transform": [{"filter": "datum.p === 'e'"}], "mark": {"type": "point", "filled": true, "color": "#000", "size": 20, "opacity": 1}, "encoding": {"y": {"field": "t", "type": "quantitative", "scale": {"domain": [-1.2, 31.2], "nice": false, "zero": false}, "axis": null}}}
 ]}
],
"resolve": {"scale": {"y": "independent"}, "axis": {"x": "independent", "y": "independent"}}
}
]
}
